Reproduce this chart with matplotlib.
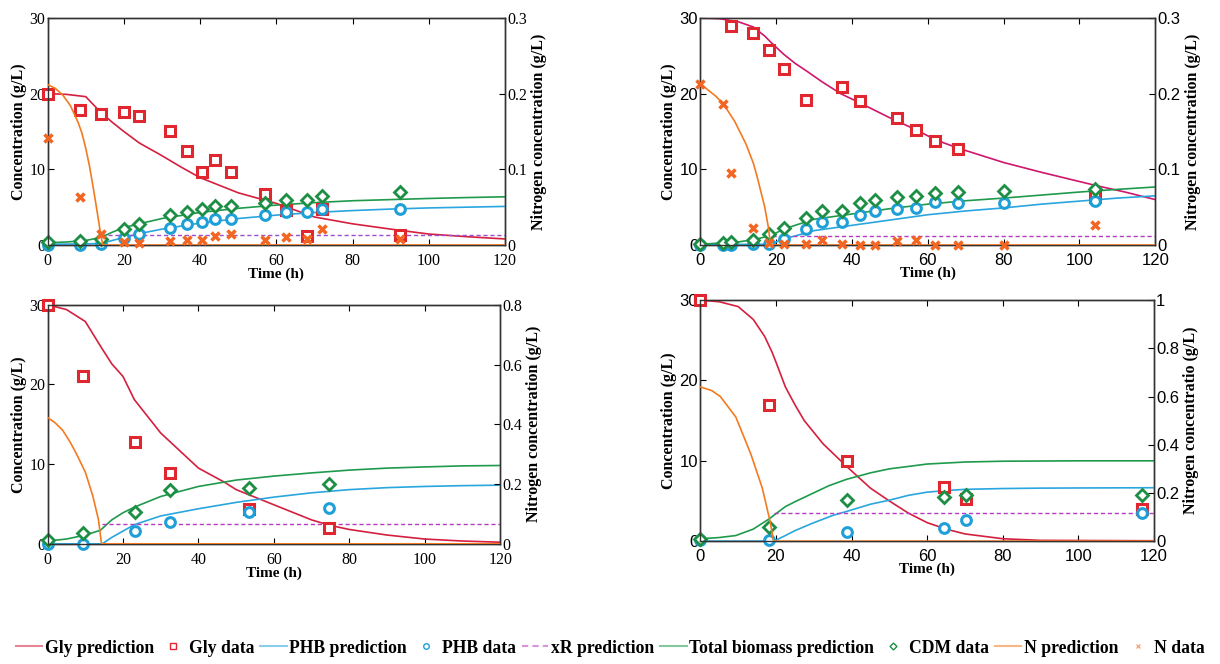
import matplotlib
matplotlib.use("Agg")
import matplotlib.pyplot as plt
from matplotlib.lines import Line2D

# ---------------- data: top-left panel ----------------
TL_T_DATA = [0, 8.5, 14, 20, 24, 32, 36.5, 40.5, 44, 48, 57, 62.5, 68, 72, 92.5]
TL_GLY_DATA = [20, 17.8, 17.3, 17.6, 17.0, 15.0, 12.4, 9.6, 11.2, 9.7, 6.8, 4.6, 1.2, 4.8, 1.3]
TL_PHB_DATA = [0, 0, 0.1, 0.9, 1.5, 2.2, 2.8, 3.1, 3.4, 3.5, 4.0, 4.4, 4.4, 4.8, 4.8]
TL_CDM_DATA = [0.4, 0.5, 0.8, 2.1, 2.8, 3.9, 4.4, 4.8, 5.2, 5.2, 5.5, 6.0, 6.0, 6.5, 7.0]
TL_N_DATA = [0.142, 0.063, 0.015, 0.004, 0.003, 0.005, 0.007, 0.006, 0.012, 0.015, 0.007, 0.011, 0.008, 0.021, 0.008]

TL_T_GLY_PRED = [0, 5, 10, 14, 17, 20, 24, 30, 35, 40, 50, 60, 70, 80, 90, 100, 110, 120]
TL_GLY_PRED = [20, 19.9, 19.6, 17.5, 16.2, 15.0, 13.5, 11.8, 10.3, 8.9, 6.9, 5.5, 3.7, 2.8, 2.1, 1.45, 1.1, 0.8]
TL_T_PHB_PRED = [0, 10, 14, 17, 20, 24, 30, 40, 50, 60, 70, 80, 90, 100, 110, 120]
TL_PHB_PRED = [0.1, 0.15, 0.2, 0.6, 1.0, 1.5, 2.1, 2.9, 3.5, 3.95, 4.3, 4.55, 4.75, 4.9, 5.0, 5.1]
TL_T_BIO_PRED = [0, 5, 10, 14, 17, 20, 24, 30, 40, 50, 60, 70, 80, 90, 100, 110, 120]
TL_BIO_PRED = [0.3, 0.4, 0.6, 1.0, 1.7, 2.3, 2.8, 3.5, 4.3, 4.85, 5.27, 5.6, 5.85, 6.0, 6.15, 6.27, 6.37]
TL_T_XR_PRED = [14, 120]
TL_XR_PRED = [1.3, 1.3]
TL_T_N_PRED = [0, 2, 4, 6, 8, 9, 10, 11, 12, 13, 14, 14.5, 120]
TL_N_PRED = [0.212, 0.207, 0.198, 0.184, 0.162, 0.148, 0.128, 0.104, 0.075, 0.044, 0.012, 0, 0]

# ---------------- data: top-right panel ----------------
TR_T_DATA = [0, 6, 8, 14, 18, 22, 28, 32, 37.5, 42, 46, 52, 57, 62, 68, 80, 104]
TR_PHB_DATA = [0, 0, 0, 0.1, 0.2, 0.8, 2.1, 3.0, 3.1, 3.9, 4.5, 4.8, 4.9, 5.7, 5.5, 5.5, 5.8]
TR_CDM_DATA = [0.2, 0.3, 0.4, 0.7, 1.5, 2.2, 3.6, 4.5, 4.5, 5.6, 6.0, 6.35, 6.5, 6.9, 7.0, 7.2, 7.45]
TR_N_DATA = [0.213, 0.186, 0.095, 0.023, 0.003, 0.001, 0.001, 0.0066, 0.001, 0, 0, 0.005, 0.006, 0, 0, 0, 0.027]
TR_T_GLY_DATA = [8, 14, 18, 22, 28, 37.5, 42, 52, 57, 62, 68, 104]
TR_GLY_DATA = [28.9, 28.0, 25.8, 23.3, 19.1, 20.9, 19.0, 16.8, 15.2, 13.7, 12.7, 6.3]

TR_T_GLY_PRED = [0, 5, 10, 14, 17, 19, 22, 25, 28, 32, 37, 42, 50, 57, 62, 68, 80, 90, 104, 112, 120]
TR_GLY_PRED = [30, 29.9, 29.5, 28.8, 27.6, 26.6, 25.2, 24.0, 23.0, 21.6, 20.0, 18.8, 16.8, 15.2, 13.9, 12.8, 10.9, 9.6, 7.9, 7.0, 6.0]
TR_T_PHB_PRED = [0, 18, 20, 22, 25, 30, 40, 50, 60, 70, 80, 90, 100, 110, 120]
TR_PHB_PRED = [0.05, 0.1, 0.4, 0.8, 1.2, 1.9, 2.6, 3.3, 4.0, 4.5, 4.9, 5.4, 5.8, 6.2, 6.5]
TR_T_BIO_PRED = [0, 10, 15, 18, 20, 22, 25, 30, 40, 50, 60, 70, 80, 90, 100, 110, 120]
TR_BIO_PRED = [0.1, 0.4, 0.8, 1.2, 1.6, 2.1, 2.6, 3.4, 4.1, 4.8, 5.4, 5.85, 6.2, 6.6, 7.0, 7.35, 7.67]
TR_T_XR_PRED = [19, 120]
TR_XR_PRED = [1.18, 1.18]
TR_T_N_PRED = [0, 2, 4, 6, 9, 12, 14, 15, 16, 17, 18, 18.5, 120]
TR_N_PRED = [0.213, 0.205, 0.197, 0.187, 0.164, 0.134, 0.108, 0.09, 0.07, 0.05, 0.022, 0, 0]

# ---------------- data: bottom-left panel ----------------
BL_T_DATA = [0, 9.3, 23.1, 32.5, 53.3, 74.5]
BL_GLY_DATA = [30, 21.0, 12.75, 8.95, 4.4, 2.0]
BL_PHB_DATA = [0, 0, 1.55, 2.8, 4.0, 4.5]
BL_CDM_DATA = [0.42, 1.42, 4.0, 6.74, 7.0, 7.5]

BL_T_GLY_PRED = [0, 5, 10, 14.3, 17, 20, 23, 30, 40, 47, 50, 60, 70, 75, 80, 90, 100, 110, 120]
BL_GLY_PRED = [30, 29.4, 27.9, 24.6, 22.6, 21.0, 18.1, 13.9, 9.5, 7.7, 6.8, 4.9, 3.0, 2.3, 1.8, 1.1, 0.6, 0.35, 0.2]
BL_T_PHB_PRED = [0, 14.5, 17, 20, 23, 30, 40, 50, 60, 70, 80, 90, 100, 110, 120]
BL_PHB_PRED = [0, 0, 0.8, 1.6, 2.4, 3.5, 4.4, 5.2, 5.86, 6.4, 6.8, 7.05, 7.2, 7.3, 7.36]
BL_T_BIO_PRED = [0, 5, 10, 14, 17, 20, 23, 30, 40, 50, 60, 70, 80, 90, 100, 110, 120]
BL_BIO_PRED = [0.35, 0.6, 1.1, 1.7, 3.0, 3.9, 4.6, 5.94, 7.2, 8.0, 8.5, 8.9, 9.25, 9.5, 9.65, 9.78, 9.83]
BL_T_XR_PRED = [14.5, 120]
BL_XR_PRED = [2.5, 2.5]
BL_T_N_PRED = [0, 2, 4, 6, 7.7, 10, 12, 13.5, 14.3, 120]
BL_N_PRED = [0.423, 0.405, 0.38, 0.34, 0.30, 0.24, 0.16, 0.08, 0, 0]

# ---------------- data: bottom-right panel ----------------
BR_T_DATA = [0, 18.3, 38.7, 64.4, 70.2, 116.7]
BR_GLY_DATA = [30, 16.9, 10.0, 6.7, 5.3, 4.0]
BR_PHB_DATA = [0.1, 0.1, 1.2, 1.6, 2.65, 3.5]
BR_CDM_DATA = [0.3, 1.8, 5.15, 5.5, 5.75, 5.8]

BR_T_GLY_PRED = [0, 5, 10, 14, 17, 19, 20, 22.5, 25, 27.5, 32.5, 38.7, 45, 50, 55, 60, 65, 70, 80, 90, 120]
BR_GLY_PRED = [30, 29.8, 29.2, 27.6, 25.5, 23.5, 22.3, 19.2, 17.0, 15.0, 12.1, 9.3, 6.6, 5.0, 3.5, 2.3, 1.5, 0.9, 0.3, 0.1, 0.05]
BR_T_PHB_PRED = [0, 19.5, 22.5, 25, 29.5, 35, 38.7, 45, 50, 55, 60, 65, 70, 80, 90, 100, 120]
BR_PHB_PRED = [0, 0, 0.7, 1.3, 2.2, 3.2, 3.7, 4.6, 5.1, 5.7, 6.1, 6.3, 6.45, 6.55, 6.6, 6.62, 6.65]
BR_T_BIO_PRED = [0, 5, 9.4, 14, 18.3, 19.4, 22.5, 25, 29.5, 34, 38.7, 45, 50, 60, 70, 80, 100, 120]
BR_BIO_PRED = [0.3, 0.45, 0.7, 1.5, 2.8, 3.2, 4.3, 4.9, 5.9, 6.9, 7.7, 8.5, 9.0, 9.6, 9.85, 9.95, 10.0, 10.0]
BR_T_XR_PRED = [19.5, 120]
BR_XR_PRED = [3.45, 3.45]
BR_T_N_PRED = [0, 3, 5.3, 9.4, 13.4, 16.4, 18.4, 19.4, 120]
BR_N_PRED = [0.64, 0.625, 0.6, 0.515, 0.36, 0.22, 0.086, 0, 0]

LEGEND_LABELS = ["Gly prediction", "Gly data", "PHB prediction", "PHB data", "xR prediction",
                 "Total biomass prediction", "CDM data", "N prediction", "N data"]

# ---------------- styles ----------------
C_GLY = "#e0262e"
C_GLY_LINE = "#d51f3f"
C_GLY_LINE_TR = "#d0166c"
C_PHB = "#1f9fd8"
C_PHB_LINE = "#2aa6de"
C_BIO = "#1d8f45"
C_BIO_LINE = "#1f9a4c"
C_N = "#f26522"
C_N_LINE = "#f47a20"
C_XR = "#9b4fd0"
C_XR2 = "#b53cc0"

SERIF = ["Liberation Serif", "DejaVu Serif"]
SANS = ["Liberation Sans", "DejaVu Sans"]

fig = plt.figure(figsize=(12.2, 6.64), dpi=100)


def panel(rect, tick_font, tick_size, ymax_r, rticks, rticklabels, rlabel,
          t_gly_pred, gly_pred, t_phb_pred, phb_pred, t_bio_pred, bio_pred,
          t_xr, xr, t_n_pred, n_pred, gly_line_color, xr_color,
          t_gly_data, gly_data, t_data, phb_data, cdm_data, t_n_data=None, n_data=None):
    ax = fig.add_axes(rect)
    ax2 = ax.twinx()
    ax.set_xlim(0, 120)
    ax.set_ylim(0, 30)
    ax2.set_ylim(0, ymax_r)
    ax.set_xticks([0, 20, 40, 60, 80, 100, 120])
    ax.set_yticks([0, 10, 20, 30])
    ax2.set_yticks(rticks)
    ax2.set_yticklabels(rticklabels)
    ax.tick_params(axis="x", direction="in", top=True, length=4, width=0.8, labelsize=tick_size, pad=6)
    ax.tick_params(axis="y", direction="in", right=False, length=4, width=0.8, labelsize=tick_size, pad=1.5)
    ax2.tick_params(direction="in", length=4, width=0.8, labelsize=tick_size, pad=1.5)
    for lab in ax.get_xticklabels() + ax.get_yticklabels() + ax2.get_yticklabels():
        lab.set_fontfamily(tick_font)
    for a in (ax, ax2):
        for s in a.spines.values():
            s.set_linewidth(1.0)
            s.set_color("#333333")
    ax.set_xlabel("Time (h)", fontsize=11, fontweight="bold", family=SERIF, labelpad=-1.5)
    ax.set_ylabel("Concentration (g/L)", fontsize=11.5, fontweight="bold", family=SERIF, labelpad=2)
    ax2.set_ylabel(rlabel, fontsize=11.5, fontweight="bold", family=SERIF, labelpad=3)

    lw = 1.2
    ax.plot(t_gly_pred, gly_pred, color=gly_line_color, lw=lw, zorder=3)
    ax.plot(t_phb_pred, phb_pred, color=C_PHB_LINE, lw=lw, zorder=3)
    ax.plot(t_bio_pred, bio_pred, color=C_BIO_LINE, lw=lw, zorder=3)
    ax.plot(t_xr, xr, color=xr_color, lw=1.0, ls=(0, (3, 2)), zorder=3)
    ax2.plot(t_n_pred, n_pred, color=C_N_LINE, lw=lw, zorder=3)

    ms = 7
    ax.plot(t_gly_data, gly_data, ls="none", marker="s", ms=ms, mfc="white", mec=C_GLY, mew=2.2, clip_on=False, zorder=5)
    ax.plot(t_data, phb_data, ls="none", marker="o", ms=ms, mfc="white", mec=C_PHB, mew=2.2, clip_on=False, zorder=5)
    ax.plot(t_data, cdm_data, ls="none", marker="D", ms=ms - 1, mfc="white", mec=C_BIO, mew=2.0, clip_on=False, zorder=5)
    if n_data is not None:
        ax2.plot(t_n_data, n_data, ls="none", marker="x", ms=6, mec=C_N, mew=2.5, clip_on=False, zorder=5)
    ax2.set_zorder(ax.get_zorder() + 1)
    ax2.patch.set_visible(False)
    return ax, ax2


panel([0.039, 0.631, 0.375, 0.342], SERIF, 11.5, 0.3, [0, 0.1, 0.2, 0.3], ["0", "0.1", "0.2", "0.3"],
      "Nitrogen concentration (g/L)",
      TL_T_GLY_PRED, TL_GLY_PRED, TL_T_PHB_PRED, TL_PHB_PRED, TL_T_BIO_PRED, TL_BIO_PRED,
      TL_T_XR_PRED, TL_XR_PRED, TL_T_N_PRED, TL_N_PRED, C_GLY_LINE, C_XR,
      TL_T_DATA, TL_GLY_DATA, TL_T_DATA, TL_PHB_DATA, TL_CDM_DATA, TL_T_DATA, TL_N_DATA)

panel([0.574, 0.631, 0.373, 0.342], SANS, 12, 0.3, [0, 0.1, 0.2, 0.3], ["0", "0.1", "0.2", "0.3"],
      "Nitrogen concentration (g/L)",
      TR_T_GLY_PRED, TR_GLY_PRED, TR_T_PHB_PRED, TR_PHB_PRED, TR_T_BIO_PRED, TR_BIO_PRED,
      TR_T_XR_PRED, TR_XR_PRED, TR_T_N_PRED, TR_N_PRED, C_GLY_LINE_TR, C_XR2,
      TR_T_GLY_DATA, TR_GLY_DATA, TR_T_DATA, TR_PHB_DATA, TR_CDM_DATA, TR_T_DATA, TR_N_DATA)

panel([0.039, 0.181, 0.371, 0.360], SERIF, 11.5, 0.8, [0, 0.2, 0.4, 0.6, 0.8], ["0", "0.2", "0.4", "0.6", "0.8"],
      "Nitrogen concentration (g/L)",
      BL_T_GLY_PRED, BL_GLY_PRED, BL_T_PHB_PRED, BL_PHB_PRED, BL_T_BIO_PRED, BL_BIO_PRED,
      BL_T_XR_PRED, BL_XR_PRED, BL_T_N_PRED, BL_N_PRED, C_GLY_LINE, C_XR2,
      BL_T_DATA, BL_GLY_DATA, BL_T_DATA, BL_PHB_DATA, BL_CDM_DATA)

panel([0.574, 0.185, 0.372, 0.363], SANS, 12, 1.0, [0, 0.2, 0.4, 0.6, 0.8, 1.0], ["0", "0.2", "0.4", "0.6", "0.8", "1"],
      "Nitrogen concentratio (g/L)",
      BR_T_GLY_PRED, BR_GLY_PRED, BR_T_PHB_PRED, BR_PHB_PRED, BR_T_BIO_PRED, BR_BIO_PRED,
      BR_T_XR_PRED, BR_XR_PRED, BR_T_N_PRED, BR_N_PRED, C_GLY_LINE, C_XR2,
      BR_T_DATA, BR_GLY_DATA, BR_T_DATA, BR_PHB_DATA, BR_CDM_DATA)

# ---------------- shared legend ----------------
a = 0.55
handles = [
    Line2D([], [], color=C_GLY_LINE, lw=1.5, alpha=a),
    Line2D([], [], ls="none", marker="s", ms=4, mfc="white", mec=C_GLY, mew=1.0),
    Line2D([], [], color=C_PHB_LINE, lw=1.5, alpha=a),
    Line2D([], [], ls="none", marker="o", ms=4, mfc="white", mec=C_PHB, mew=1.0),
    Line2D([], [], color=C_XR2, lw=1.5, ls=(0, (3, 2)), alpha=a),
    Line2D([], [], color=C_BIO_LINE, lw=1.5, alpha=a),
    Line2D([], [], ls="none", marker="D", ms=3.5, mfc="white", mec=C_BIO, mew=1.0),
    Line2D([], [], color=C_N_LINE, lw=1.5, alpha=a),
    Line2D([], [], ls="none", marker="x", ms=3, mec=C_N, mew=1.0, alpha=a),
]
fig.legend(handles, LEGEND_LABELS, loc="center", bbox_to_anchor=(0.5, 0.024), ncol=9, frameon=False,
           prop={"family": SERIF, "weight": "bold", "size": 12.7}, handlelength=1.5, handletextpad=0.15,
           columnspacing=0.33, borderaxespad=0, borderpad=0)

fig.savefig("out.png", dpi=100)
